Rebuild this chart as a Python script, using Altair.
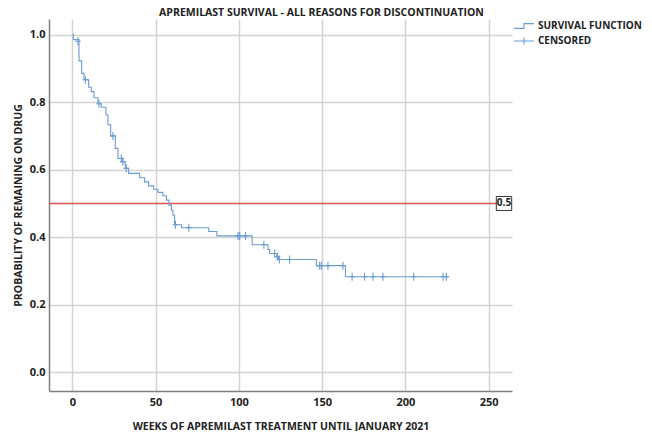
import altair as alt
import pandas as pd

# Kaplan-Meier step points (week at which the level changes, new survival level)
step_weeks = [0, 0.6, 4, 5.6, 7, 9.8, 11.4, 13, 15.4, 17.4, 20.2, 21.4, 23, 25.8, 27.4,
              30, 31.8, 33.8, 40.4, 43.4, 45.8, 48.8, 51.4, 54.4, 56.5, 58, 59.5, 60.4,
              61.4, 65.5, 81.9, 86.8, 108, 117.5, 118.5, 122.9, 123.6, 146.5, 164, 226]
step_surv = [1.0, 0.985, 0.922, 0.885, 0.866, 0.844, 0.831, 0.813, 0.795, 0.785, 0.762,
             0.733, 0.700, 0.663, 0.633, 0.624, 0.604, 0.589, 0.576, 0.564, 0.552, 0.542,
             0.533, 0.523, 0.510, 0.495, 0.480, 0.465, 0.437, 0.428, 0.417, 0.404, 0.378,
             0.364, 0.352, 0.342, 0.334, 0.316, 0.283, 0.283]

# Censored observations
cens_weeks = [3.4, 7.8, 16, 24.4, 29.4, 30.4, 32.4, 61.9, 70, 99.5, 100.5, 104, 115,
              121.5, 123.2, 124.3, 130.5, 148.5, 149.5, 153.5, 162.5, 168, 175.5,
              180.5, 186.5, 205, 222.6, 224.6]
cens_surv = [0.980, 0.866, 0.795, 0.700, 0.633, 0.624, 0.604, 0.437, 0.428, 0.404, 0.404,
             0.404, 0.378, 0.352, 0.342, 0.334, 0.334, 0.316, 0.316, 0.316, 0.316, 0.283,
             0.283, 0.283, 0.283, 0.283, 0.283, 0.283]

legend_items = ["SURVIVAL FUNCTION", "CENSORED"]
x_ticks = [0, 50, 100, 150, 200, 250]
y_ticks = [0.0, 0.2, 0.4, 0.6, 0.8, 1.0]
ref_value = 0.5
chart_title = ["APREMILAST SURVIVAL - ALL REASONS FOR DISCONTINUATION"]

BLUE = "#6b9bd2"
RED = "#d9534f"
FONT = "Open Sans"

steps = pd.DataFrame({"week": step_weeks, "surv": step_surv})
cens = pd.DataFrame({"week": cens_weeks, "surv": cens_surv})
leg = pd.DataFrame({"item": legend_items})
ref = pd.DataFrame({"y": [ref_value], "label": ["0.5"]})
ttl = pd.DataFrame({"t": chart_title})

xscale = alt.Scale(domain=[-14, 264], nice=False, zero=False)
yscale = alt.Scale(domain=[-0.055, 1.046], nice=False, zero=False)

xaxis = alt.Axis(values=x_ticks, title="WEEKS OF APREMILAST TREATMENT UNTIL JANUARY 2021",
                 titlePadding=14, labelPadding=5)
yaxis = alt.Axis(values=y_ticks, format=".1f", title="PROBABILITY OF REMAINING ON DRUG",
                 titlePadding=6, labelPadding=4)

line = alt.Chart(steps).mark_line(interpolate="step-after", color=BLUE, strokeWidth=1.1).encode(
    x=alt.X("week:Q", scale=xscale, axis=xaxis),
    y=alt.Y("surv:Q", scale=yscale, axis=yaxis),
)

censor = alt.Chart(cens).mark_point(
    shape="M0,-1L0,1M-0.7,0L0.7,0", size=64, filled=False, color=BLUE, strokeWidth=1.1, opacity=1
).encode(x="week:Q", y="surv:Q")

rule = alt.Chart(ref).mark_rule(strokeWidth=1.4).encode(
    y="y:Q", color=alt.value(RED), x=alt.value(0), x2=alt.value(463)
)

box = alt.Chart(ref).mark_point(
    shape="M-1.1,-1L1.1,-1L1.1,1L-1.1,1Z", size=196, filled=True, fill="white",
    stroke="#333333", strokeWidth=1, opacity=1
).encode(x=alt.value(455), y="y:Q")

box_text = alt.Chart(ref).mark_text(
    font=FONT, fontWeight="bold", fontSize=10, color="#222222", align="center", baseline="middle"
).encode(x=alt.value(455), y="y:Q", text="label:N")

title_text = alt.Chart(ttl).mark_text(
    font=FONT, fontWeight="bold", fontSize=10.5, color="#222222", align="center",
    baseline="alphabetic"
).encode(x=alt.value(272.5), y=alt.value(-3), text="t:N")

legend_layer = alt.Chart(leg).mark_point(opacity=0, filled=False).encode(
    shape=alt.Shape(
        "item:N",
        scale=alt.Scale(domain=legend_items,
                        range=["M-1.25,0.3L0,0.3L0,-0.3L1.25,-0.3",
                               "M-1.25,0L1.25,0M0,-0.45L0,0.45"]),
        legend=alt.Legend(
            title=None, orient="none", legendX=466, legendY=-2, symbolSize=256,
            symbolStrokeColor=BLUE, symbolStrokeWidth=1.1, symbolOpacity=1,
            symbolFillColor="transparent", labelFont=FONT, labelFontWeight="bold",
            labelFontSize=10, labelColor="#222222", labelOffset=5, rowPadding=1,
        ),
    )
)

chart = alt.layer(rule, line, censor, box, box_text, title_text, legend_layer).properties(
    width=463, height=372,
    autosize=alt.AutoSizeParams(type="none"),
    padding={"left": 41, "top": 11, "right": 132, "bottom": 40},
).configure_view(stroke=None).configure_axis(
    grid=True, gridColor="#d3d3d3", gridWidth=1.5, ticks=False,
    domainColor="#7f7f7f", domainWidth=1.5,
    labelFont=FONT, labelFontWeight="bold", labelFontSize=11, labelColor="#222222",
    titleFont=FONT, titleFontWeight="bold", titleFontSize=10.5, titleColor="#222222",
)

chart.save("out.html", embed_options={"renderer": "svg", "actions": False})
